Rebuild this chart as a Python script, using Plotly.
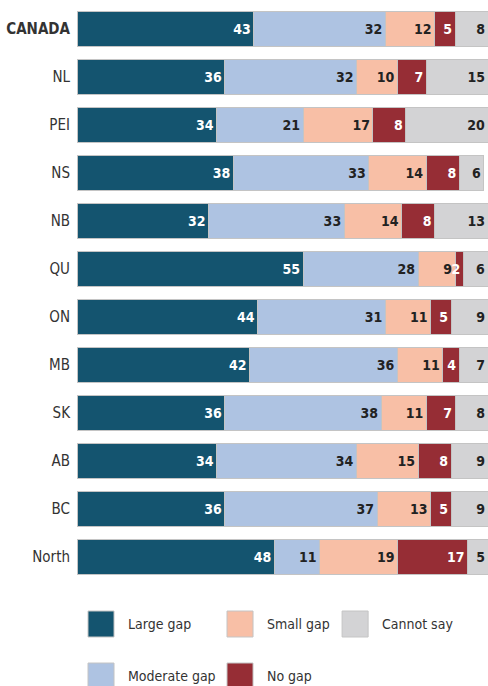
import plotly.graph_objects as go

regions = ["CANADA", "NL", "PEI", "NS", "NB", "QU", "ON", "MB", "SK", "AB", "BC", "North"]
large_gap = [43, 36, 34, 38, 32, 55, 44, 42, 36, 34, 36, 48]
moderate_gap = [32, 32, 21, 33, 33, 28, 31, 36, 38, 34, 37, 11]
small_gap = [12, 10, 17, 14, 14, 9, 11, 11, 11, 15, 13, 19]
no_gap = [5, 7, 8, 8, 8, 2, 5, 4, 7, 8, 5, 17]
cannot_say = [8, 15, 20, 6, 13, 6, 9, 7, 8, 9, 9, 5]

series = [
    ("Large gap", large_gap, "#14546f", "white"),
    ("Moderate gap", moderate_gap, "#aec3e2", "#222222"),
    ("Small gap", small_gap, "#f8bfa6", "#222222"),
    ("No gap", no_gap, "#962d35", "white"),
    ("Cannot say", cannot_say, "#d3d3d5", "#222222"),
]

FONT = "DejaVu Sans Condensed, Liberation Sans Narrow, Arial Narrow, sans-serif"

fig = go.Figure()
for name, vals, color, tcolor in series:
    fig.add_trace(go.Bar(
        y=regions, x=vals, name=name, orientation="h",
        marker=dict(color=color, line=dict(color="#c4c4c4", width=1)),
        text=[str(v) for v in vals],
        textposition="inside", insidetextanchor="end",
        textfont=dict(family=FONT, size=14, color=tcolor, weight="bold"),
        cliponaxis=False,
        showlegend=False,
    ))

ticktext = ["<b>CANADA</b>"] + regions[1:]

fig.update_layout(
    width=488, height=686,
    barmode="stack", bargap=0.29,
    margin=dict(l=77, r=0, t=5, b=105, autoexpand=False),
    plot_bgcolor="white", paper_bgcolor="white",
    font=dict(family=FONT, size=15, color="#333333"),
    uniformtext=dict(minsize=14, mode="show"),
    xaxis=dict(range=[0, 100], visible=False, fixedrange=True),
    yaxis=dict(autorange="reversed", tickvals=regions, ticktext=ticktext,
               ticks="", ticklabelstandoff=6, showgrid=False,
               tickfont=dict(family=FONT, size=15, color="#333333")),
)

# custom legend: three columns, two rows
legend_names = ["Large gap", "Small gap", "Cannot say", "Moderate gap", "No gap"]
legend_colors = ["#14546f", "#f8bfa6", "#d3d3d5", "#aec3e2", "#962d35"]
col_x = [0.0268, 0.365, 0.645]
row_y = [-0.0521, -0.1424]
sw_w = 0.0633
sw_h = 0.0451
for i, (nm, col) in enumerate(zip(legend_names, legend_colors)):
    x0 = col_x[i % 3]
    y0 = row_y[i // 3]
    fig.add_shape(type="rect", xref="paper", yref="paper",
                  x0=x0, x1=x0 + sw_w, y0=y0, y1=y0 - sw_h,
                  fillcolor=col, line=dict(color="#c4c4c4", width=1))
    fig.add_annotation(xref="paper", yref="paper", x=x0 + sw_w + 0.030,
                       y=y0 - sw_h / 2, text=nm, showarrow=False,
                       xanchor="left", yanchor="middle",
                       font=dict(family=FONT, size=14, color="#333333"))

fig.write_html("out.html", config={"displayModeBar": False},
               post_script="document.body.style.margin='0';")
